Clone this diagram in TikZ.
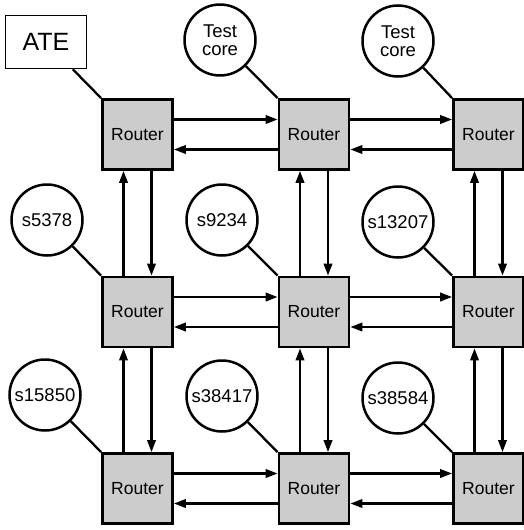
\documentclass[tikz,border=0pt]{standalone}
\usepackage{fontspec}
\setmainfont{Liberation Sans}
\usetikzlibrary{arrows.meta}
\begin{document}
\begin{tikzpicture}[
  router/.style={draw=black, line width=2.8pt, fill=black!20, minimum width=70pt, minimum height=70pt, inner sep=0pt, font=\fontsize{17.5}{19}\selectfont},
  core/.style={circle, draw=black, line width=2.5pt, fill=white, minimum size=71pt, inner sep=0pt, align=center, font=\fontsize{18.5}{20}\selectfont},
  atebox/.style={draw=black, line width=1.5pt, minimum width=81pt, minimum height=53pt, inner sep=0pt, font=\fontsize{25}{27}\selectfont},
  link/.style={line width=2.3pt},
  arr/.style={line width=2.2pt, -{Triangle[length=12pt,width=8.5pt]}}
]
\useasboundingbox (0pt,0pt) rectangle (524pt,-530pt);

% routers
\node[router] (r11) at (137.5pt,-134.5pt) {Router};
\node[router] (r12) at (314pt,-134.5pt) {Router};
\node[router] (r13) at (488.5pt,-134.5pt) {Router};
\node[router] (r21) at (137.5pt,-312pt) {Router};
\node[router] (r22) at (314pt,-312pt) {Router};
\node[router] (r23) at (488.5pt,-312pt) {Router};
\node[router] (r31) at (137.5pt,-488.5pt) {Router};
\node[router] (r32) at (314pt,-488.5pt) {Router};
\node[router] (r33) at (488.5pt,-488.5pt) {Router};

% cores
\node[atebox] (ate) at (46pt,-42pt) {ATE};
\node[core] (c12) at (220pt,-40pt) {Test\\[-2pt]core};
\node[core] (c13) at (398pt,-41pt) {Test\\[-2pt]core};
\node[core] (c21) at (47pt,-220pt) {s5378};
\node[core] (c22) at (222pt,-220pt) {s9234};
\node[core] (c23) at (398pt,-222pt) {s13207};
\node[core] (c31) at (45pt,-395pt) {s15850};
\node[core] (c32) at (222pt,-396pt) {s38417};
\node[core] (c33) at (398pt,-398pt) {s38584};

% core links
\foreach \c/\r in {ate/r11, c12/r12, c13/r13, c21/r21, c22/r22, c23/r23, c31/r31, c32/r32, c33/r33}
  \draw[link] (\c) -- (\r.north west);

% horizontal arrows
\foreach \a/\b in {r11/r12, r12/r13, r21/r22, r22/r23, r31/r32, r32/r33} {
  \draw[arr] ([yshift=15pt]\a.east) -- ([yshift=15pt]\b.west);
  \draw[arr] ([yshift=-15pt]\b.west) -- ([yshift=-15pt]\a.east);
}
% vertical arrows
\foreach \a/\b in {r11/r21, r21/r31, r12/r22, r22/r32, r13/r23, r23/r33} {
  \draw[arr] ([xshift=-14pt]\b.north) -- ([xshift=-14pt]\a.south);
  \draw[arr] ([xshift=14pt]\a.south) -- ([xshift=14pt]\b.north);
}
\end{tikzpicture}
\end{document}
